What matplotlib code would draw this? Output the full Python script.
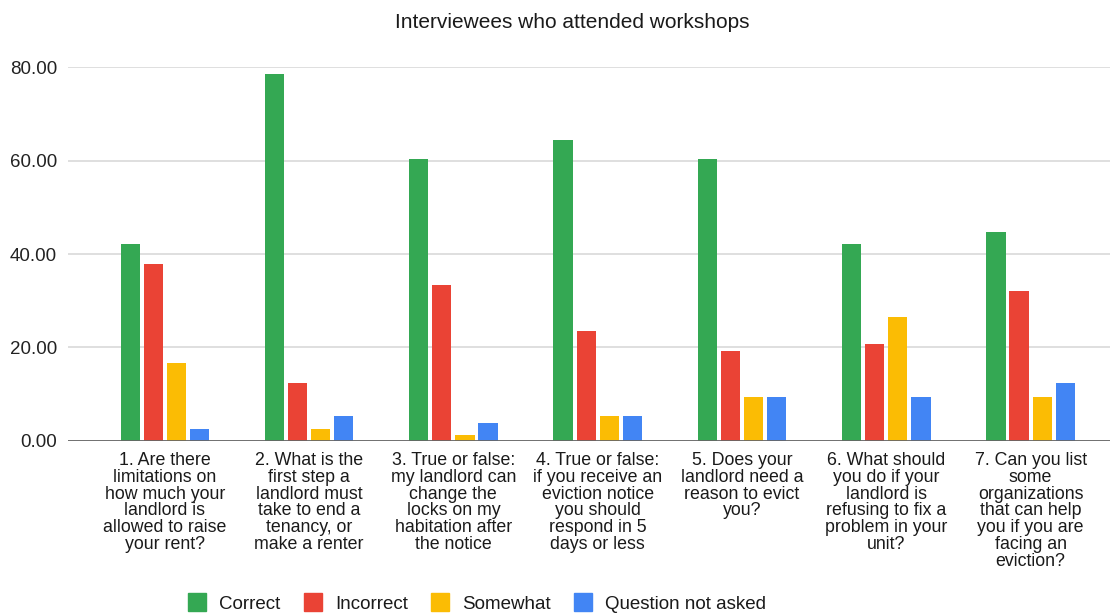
#!/usr/bin/env python3
"""Grouped bar chart: interviewees who attended workshops."""

import matplotlib

matplotlib.use("Agg")
import matplotlib.pyplot as plt
import numpy as np
from matplotlib.lines import Line2D

plt.rcParams["font.family"] = ["Liberation Sans", "DejaVu Sans"]

QUESTIONS = [
    "1. Are there\nlimitations on\nhow much your\nlandlord is\nallowed to raise\nyour rent?",
    "2. What is the\nfirst step a\nlandlord must\ntake to end a\ntenancy, or\nmake a renter",
    "3. True or false:\nmy landlord can\nchange the\nlocks on my\nhabitation after\nthe notice",
    "4. True or false:\nif you receive an\neviction notice\nyou should\nrespond in 5\ndays or less",
    "5. Does your\nlandlord need a\nreason to evict\nyou?",
    "6. What should\nyou do if your\nlandlord is\nrefusing to fix a\nproblem in your\nunit?",
    "7. Can you list\nsome\norganizations\nthat can help\nyou if you are\nfacing an\neviction?",
]

SERIES = ["Correct", "Incorrect", "Somewhat", "Question not asked"]
correct = [42.1, 78.5, 60.3, 64.4, 60.3, 42.1, 44.7]
incorrect = [37.9, 12.4, 33.4, 23.5, 19.3, 20.7, 32.1]
somewhat = [16.7, 2.6, 1.3, 5.3, 9.4, 26.5, 9.4]
not_asked = [2.6, 5.3, 3.9, 5.3, 9.4, 9.4, 12.4]

COLORS = ["#34a853", "#ea4335", "#fbbc04", "#4285f4"]


def main():
    fig = plt.figure(figsize=(11.12, 6.14), dpi=100)
    ax = fig.add_axes([0.0612, 0.2818, 0.937, 0.609])

    x = np.arange(len(QUESTIONS))
    width = 0.133
    pitch = 0.16
    values = [correct, incorrect, somewhat, not_asked]
    for i, (vals, color) in enumerate(zip(values, COLORS)):
        offset = (i - 1.5) * pitch
        ax.bar(x + offset, vals, width=width, color=color, zorder=3)

    ax.set_ylim(0, 80)
    ax.set_xlim(-0.67, 6.55)
    ax.set_yticks([0, 20, 40, 60, 80])
    ax.set_yticklabels([f"{v:.2f}" for v in [0, 20, 40, 60, 80]])
    ax.grid(axis="y", color="#d9d9d9", linewidth=1.2, zorder=0)
    ax.axhline(0, color="#666666", linewidth=2, zorder=4)

    ax.set_xticks(x)
    ax.set_xticklabels(QUESTIONS, fontsize=12.8, color="#1a1a1a",
                       linespacing=0.98, va="top")
    ax.tick_params(axis="x", length=0, pad=8)
    ax.tick_params(axis="y", length=0, pad=8, labelsize=13.5,
                   labelcolor="#222222")
    for spine in ax.spines.values():
        spine.set_visible(False)

    fig.text(0.5145, 1 - 22 / 614, "Interviewees who attended workshops",
             ha="center", va="center", fontsize=15, color="#1a1a1a")

    handles = [
        Line2D([], [], marker="s", linestyle="none", markersize=13,
               markerfacecolor=c, markeredgecolor=c)
        for c in COLORS
    ]
    fig.legend(handles, SERIES, loc="center", ncol=4, frameon=False,
               bbox_to_anchor=(477 / 1112, 1 - 604 / 614), fontsize=13.5,
               handlelength=1.0, handletextpad=0.7, columnspacing=1.2,
               labelcolor="#1a1a1a")

    fig.savefig("out.png", dpi=100)


if __name__ == "__main__":
    main()
